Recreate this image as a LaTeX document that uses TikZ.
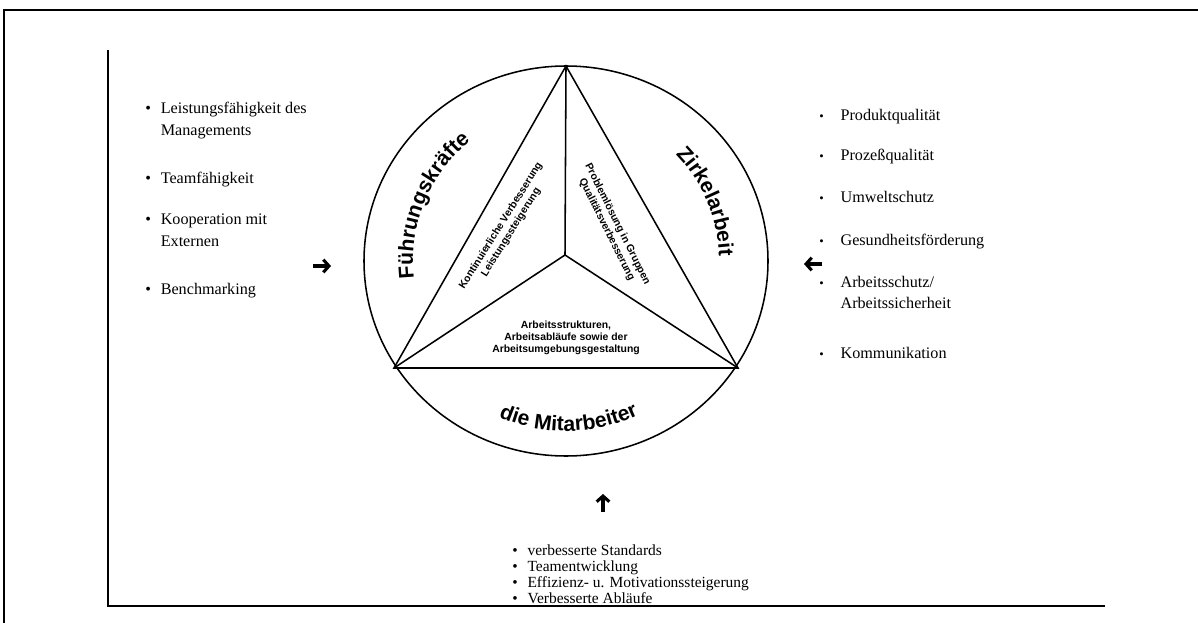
\documentclass[tikz,border=0pt]{standalone}
\usepackage{fontspec}
\setmainfont{Liberation Serif}
\setsansfont{Liberation Sans}
\usetikzlibrary{arrows.meta,decorations.text}
\tikzset{
  frm/.style={line width=1.5pt},
  tri/.style={line width=1.1pt},
  itm/.style={anchor=base west,inner sep=0pt,font=\fontsize{11.5}{15.6}\selectfont},
  inr/.style={font=\sffamily\bfseries\fontsize{7.4}{8.6}\selectfont,align=center,inner sep=0pt},
  pf/.style={line width=2.2pt,-{Straight Barb[length=4pt,width=9pt]}},
  bogen/.style={decorate,decoration={text along path,text align=center,text={|\arcfont|#1}}}
}
\newcommand{\arcfont}{\sffamily\bfseries\fontsize{15}{18}\selectfont}
\newcommand{\bitem}[1]{\begin{tabular}[t]{@{}l@{\hspace{7pt}}l@{}}\textbullet&#1\end{tabular}}
\newcommand{\sitem}[1]{\begin{tabular}[t]{@{}l@{\hspace{12pt}}l@{}}\small\textbullet&#1\end{tabular}}

\begin{document}
\begin{tikzpicture}[x=0.025cm,y=0.025cm]
\useasboundingbox (0,0) rectangle (1198,-623);
% frame and axes
\draw[frm] (4,-623) -- (4,-10) -- (1198,-10);
\coordinate (ytop) at (108,-50); \coordinate (orig) at (108,-606); \coordinate (xend) at (1105,-606);
\draw[frm] (ytop) -- (orig) -- (xend);
% circle with triangle
\coordinate (cen) at (566,-261);
\coordinate (apex) at (566,-66); \coordinate (bl) at (394,-368); \coordinate (br) at (738,-368); \coordinate (mid) at (565,-255);
\draw[tri] (cen) ellipse [x radius=202, y radius=195];
\draw[tri] (apex) -- (bl) -- (br) -- cycle;
\draw[tri] (apex) -- (mid); \draw[tri] (bl) -- (mid) -- (br);
% curved labels
\path[bogen={Führungskräfte}] (cen) ++(200:153) arc[start angle=200,end angle=115,radius=153];
\path[bogen={Zirkelarbeit}] (cen) ++(56:153) arc[start angle=56,end angle=-10,radius=153];
\path[bogen={die Mitarbeiter}] (cen) ++(230:170) arc[start angle=230,end angle=312,radius=170];
% inner fields
\node[inr,rotate=58] (kvp) at (506,-229) {Kontinuierliche Verbesserung\\Leistungssteigerung};
\node[inr,rotate=-63.5] (qz) at (612,-227) {Problemlösung in Gruppen\\Qualitätsverbesserung};
\node[inr] (arb) at (566,-338) {Arbeitsstrukturen,\\Arbeitsabläufe sowie der\\Arbeitsumgebungsgestaltung};
% left list
\node[itm] (l1) at (145,-114) {\bitem{Leistungsfähigkeit des\\&Managements}};
\node[itm] (l2) at (145,-184) {\bitem{Teamfähigkeit}};
\node[itm] (l3) at (145,-225) {\bitem{Kooperation mit\\&Externen}};
\node[itm] (l4) at (145,-294) {\bitem{Benchmarking}};
% right list
\node[itm] (r1) at (819,-121) {\sitem{Produktqualität}};
\node[itm] (r2) at (819,-161) {\sitem{Prozeßqualität}};
\node[itm] (r3) at (819,-203) {\sitem{Umweltschutz}};
\node[itm] (r4) at (819,-245) {\sitem{Gesundheitsförderung}};
\node[itm] (r5) at (819,-287) {\sitem{Arbeitsschutz/\\&Arbeitssicherheit}};
\node[itm] (r6) at (819,-358) {\sitem{Kommunikation}};
% bottom list
\node[itm,font=\fontsize{11}{11.5}\selectfont] (b1) at (512,-555) {\bitem{verbesserte Standards\\\textbullet&Teamentwicklung\\\textbullet&Effizienz- u. Motivationssteigerung\\\textbullet&Verbesserte Abläufe}};
% arrows
\coordinate (pl0) at (313,-266); \coordinate (pl1) at (331,-266); \draw[pf] (pl0) -- (pl1);
\coordinate (pr0) at (822,-264); \coordinate (pr1) at (804,-264); \draw[pf] (pr0) -- (pr1);
\coordinate (pb0) at (603,-512); \coordinate (pb1) at (603,-494); \draw[pf] (pb0) -- (pb1);
\end{tikzpicture}
\end{document}
